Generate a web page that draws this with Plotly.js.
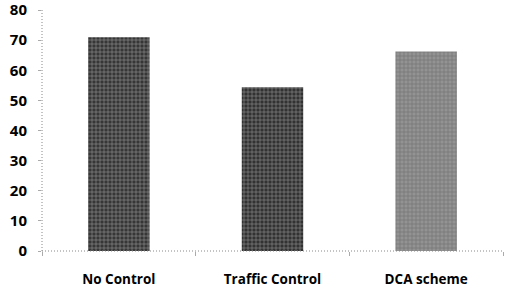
<!DOCTYPE html>
<html><head><meta charset="utf-8">
<script src="https://cdn.plot.ly/plotly-3.0.1.min.js"></script>
<style>html,body{margin:0;padding:0;background:#fff}#c{width:506px;height:294px}</style>
</head><body><div id="c"></div>
<script>
const categories = ["No Control", "Traffic Control", "DCA scheme"];
const values = [71, 54.4, 66.2];
const yTicks = [0, 10, 20, 30, 40, 50, 60, 70, 80];

const fills = ["#363636", "#323232", "#939393"];
const fgs = ["#5a5a5a", "#555555", "#6a6a6a"];

const trace = {
  type: "bar",
  x: categories,
  y: values,
  marker: {
    color: fills,
    line: {width: 0},
    pattern: {shape: "+", size: 4, solidity: 0.25, fgcolor: fgs, fillmode: "overlay"}
  },
  hoverinfo: "none"
};

const layout = {
  width: 506, height: 294,
  margin: {l: 42, r: 3, t: 10, b: 43},
  paper_bgcolor: "#fff", plot_bgcolor: "#fff",
  bargap: 0.6,
  showlegend: false,
  font: {family: "Open Sans, sans-serif", color: "#000"},
  xaxis: {
    showgrid: false, zeroline: false, showline: false, automargin: false,
    ticks: "outside", tickson: "boundaries", ticklen: 4, tickcolor: "#aaa", tickwidth: 1,
    tickfont: {size: 13.5, weight: "bold", family: "Open Sans, sans-serif"},
    ticklabelstandoff: 18
  },
  yaxis: {
    range: [0, 80.02], tickvals: yTicks, ticktext: yTicks.map(String),
    showgrid: false, zeroline: false, showline: false, automargin: false,
    ticks: "outside", ticklen: 3, tickcolor: "#aaa", tickwidth: 1,
    tickfont: {size: 15, weight: "bold", family: "Open Sans, sans-serif"},
    ticklabelstandoff: 8, ticklabeloverflow: "allow"
  },
  shapes: [
    {type: "line", xref: "paper", yref: "paper", x0: 0, x1: 0, y0: 0, y1: 1,
     line: {color: "#888", width: 1, dash: "1px,2px"}},
    {type: "line", xref: "paper", yref: "paper", x0: 0, x1: 1, y0: 0, y1: 0,
     line: {color: "#888", width: 1, dash: "1px,2px"}}
  ]
};

Plotly.newPlot("c", [trace], layout, {displayModeBar: false, staticPlot: true});
</script>
</body></html>
